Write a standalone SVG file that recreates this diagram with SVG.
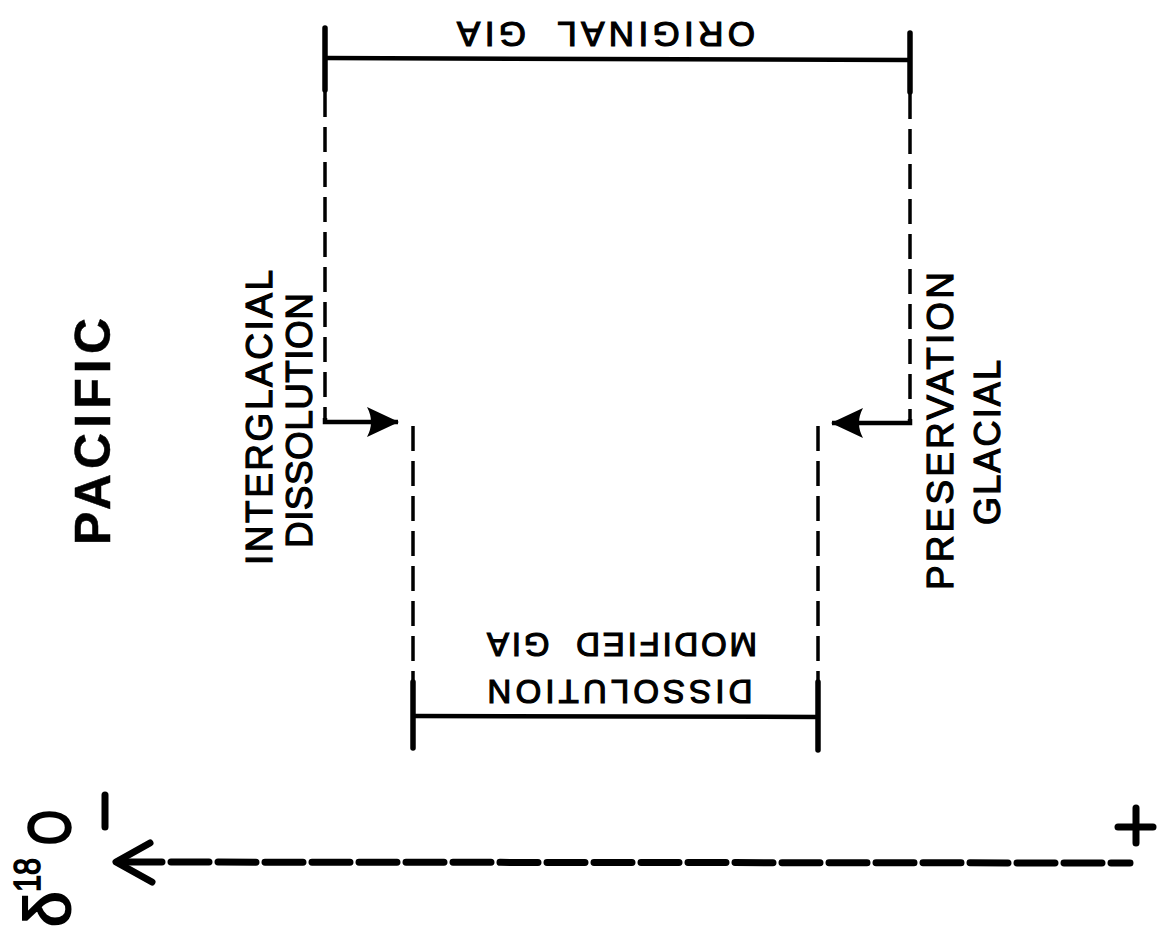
<svg xmlns="http://www.w3.org/2000/svg" width="1160" height="931" viewBox="0 0 1160 931">
<style>
.t{font-family:"Liberation Sans",Arial,sans-serif;font-weight:normal;fill:#000;stroke:#000;stroke-width:1.2;white-space:pre}
.tb{font-family:"Liberation Sans",Arial,sans-serif;font-weight:bold;fill:#000;stroke:#000;stroke-width:0.5}
.solid{stroke:#000;stroke-width:4.5;fill:none}
.tick{stroke:#000;stroke-width:5.5;fill:none;stroke-linecap:round}
.dash{stroke:#000;stroke-width:3.5;fill:none;stroke-dasharray:25 10}
.axis{stroke:#000;stroke-width:7;fill:none;stroke-linecap:round}
</style>
<defs>
<marker id="ah" viewBox="0 0 32 32" refX="31" refY="16" markerWidth="32" markerHeight="32" markerUnits="userSpaceOnUse" orient="auto">
<path d="M0,1 L32,16 L0,31 Q8,16 0,1 Z" fill="#000"/>
</marker>
</defs>
<rect width="1160" height="931" fill="#fff"/>

<g id="original-gia">
<line class="tick" x1="325" y1="28" x2="325" y2="90"/>
<line class="tick" x1="910" y1="33" x2="910" y2="92"/>
<line class="solid" x1="325" y1="58" x2="910" y2="60"/>
<text class="t" font-size="35" text-anchor="middle" textLength="298" lengthAdjust="spacing" x="606" y="22" transform="rotate(180 606 22)">ORIGINAL  GIA</text>
</g>

<g id="modified-gia">
<line class="tick" x1="413" y1="682" x2="413" y2="748"/>
<line class="tick" x1="818" y1="682" x2="818" y2="750"/>
<line class="solid" x1="413" y1="716" x2="818" y2="717"/>
<text class="t" font-size="33" text-anchor="middle" textLength="270" lengthAdjust="spacing" x="622" y="633" transform="rotate(180 622 633)">MODIFIED  GIA</text>
<text class="t" font-size="33" text-anchor="middle" textLength="265" lengthAdjust="spacing" x="620" y="680" transform="rotate(180 620 680)">DISSOLUTION</text>
</g>

<g id="interglacial-label">
<text class="t" font-size="37" textLength="295" lengthAdjust="spacing" transform="translate(272 565) rotate(-90)" x="0" y="0">INTERGLACIAL</text>
<text class="t" font-size="37" textLength="255" lengthAdjust="spacing" transform="translate(312 548) rotate(-90)" x="0" y="0">DISSOLUTION</text>
</g>

<g id="glacial-label">
<text class="t" font-size="37" textLength="318" lengthAdjust="spacing" transform="translate(953 590) rotate(-90)" x="0" y="0">PRESERVATION</text>
<text class="t" font-size="36" textLength="165" lengthAdjust="spacing" transform="translate(1000 525) rotate(-90)" x="0" y="0">GLACIAL</text>
</g>

<g id="pacific-label">
<text class="tb" font-size="50" textLength="227" lengthAdjust="spacing" transform="translate(110 545) rotate(-90)" x="0" y="0">PACIFIC</text>
</g>

<g id="connectors">
<line class="dash" x1="325" y1="92" x2="325" y2="420"/>
<path class="solid" d="M325,418 L325,422 L398,422" marker-end="url(#ah)"/>
<line class="dash" x1="910" y1="94" x2="910" y2="421"/>
<path class="solid" d="M910,419 L910,423 L832,423" marker-end="url(#ah)"/>
<line class="dash" x1="413" y1="426" x2="413" y2="682"/>
<line class="dash" x1="818" y1="426" x2="818" y2="682"/>
</g>

<g id="axis">
<line class="axis" x1="124" y1="862" x2="1130" y2="863" stroke-dasharray="38 9" stroke-linecap="butt"/>
<polyline class="axis" points="150,843 116,862 152,882" stroke-linejoin="round"/>
<line class="axis" x1="105" y1="795" x2="105" y2="827"/>
<line class="axis" x1="1136" y1="808" x2="1136" y2="843"/>
<line class="axis" x1="1118" y1="827" x2="1153" y2="827"/>
<g transform="translate(70 927) rotate(-90)">
<text class="t" font-size="64" x="0" y="0" style="stroke-width:2">δ</text>
<text class="t" font-size="36" x="35" y="-30" textLength="34" lengthAdjust="spacingAndGlyphs" style="stroke-width:1.5">18</text>
<text class="t" font-size="60" x="82" y="0" textLength="35" lengthAdjust="spacingAndGlyphs" style="stroke-width:2.5">O</text>
</g>
</g>
</svg>
